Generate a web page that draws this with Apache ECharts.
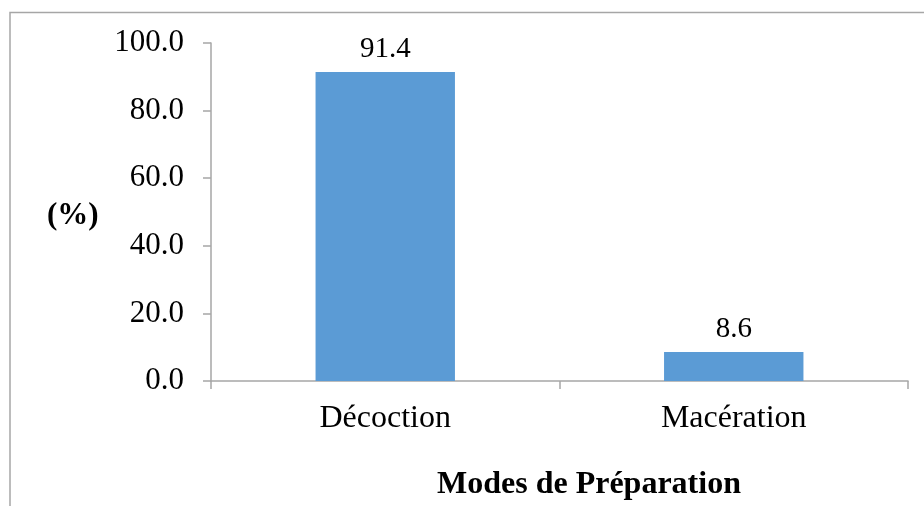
<!DOCTYPE html>
<html>
<head>
<meta charset="utf-8">
<script src="https://cdn.jsdelivr.net/npm/echarts@6/dist/echarts.min.js"></script>
<style>
  html, body { margin: 0; padding: 0; background: #fff; }
  #main { width: 924px; height: 506px; }
</style>
</head>
<body>
<div id="main"></div>
<script>
// données du graphique
var categories = ['Décoction', 'Macération'];
var values = [91.4, 8.6];
var yTicks = [0, 20, 40, 60, 80, 100];

var font = '"Liberation Serif", "Times New Roman", serif';

var option = {
    backgroundColor: '#fff',
    animation: false,
    graphic: [
        {
            type: 'rect',
            shape: { x: 10, y: 12.5, width: 940, height: 520 },
            style: { fill: 'none', stroke: '#a6a6a6', lineWidth: 1.5 },
            silent: true
        },
        {
            type: 'text',
            left: 47,
            top: 200,
            style: { text: '(%)', font: 'bold 31px ' + font, fill: '#000' }
        },
        {
            type: 'text',
            left: 437,
            top: 469,
            style: { text: 'Modes de Préparation', font: 'bold 32px ' + font, fill: '#000' }
        }
    ],
    grid: { left: 211, right: 16, top: 43, bottom: 125, containLabel: false },
    xAxis: {
        type: 'category',
        data: categories,
        axisLine: { lineStyle: { color: '#a6a6a6', width: 1.5 } },
        axisTick: { show: true, length: 8, lineStyle: { color: '#a6a6a6', width: 1.5 } },
        axisLabel: { color: '#000', fontFamily: font, fontSize: 32, margin: 22 }
    },
    yAxis: {
        type: 'value',
        min: yTicks[0],
        max: yTicks[yTicks.length - 1],
        interval: 20,
        splitLine: { show: false },
        axisLine: { show: true, lineStyle: { color: '#a6a6a6', width: 1.5 } },
        axisTick: { show: true, length: 8, lineStyle: { color: '#a6a6a6', width: 1.5 } },
        axisLabel: {
            color: '#000', fontFamily: font, fontSize: 31, margin: 27,
            formatter: function (v) { return v.toFixed(1); }
        }
    },
    series: [
        {
            type: 'bar',
            data: values,
            barWidth: '40%',
            itemStyle: { color: '#5b9bd5' },
            label: {
                show: true,
                position: 'top',
                distance: 8,
                color: '#000',
                fontFamily: font,
                fontSize: 29,
                formatter: function (p) { return p.value.toFixed(1); }
            }
        }
    ]
};

var myChart = echarts.init(document.getElementById('main'));
myChart.setOption(option);
</script>
</body>
</html>
